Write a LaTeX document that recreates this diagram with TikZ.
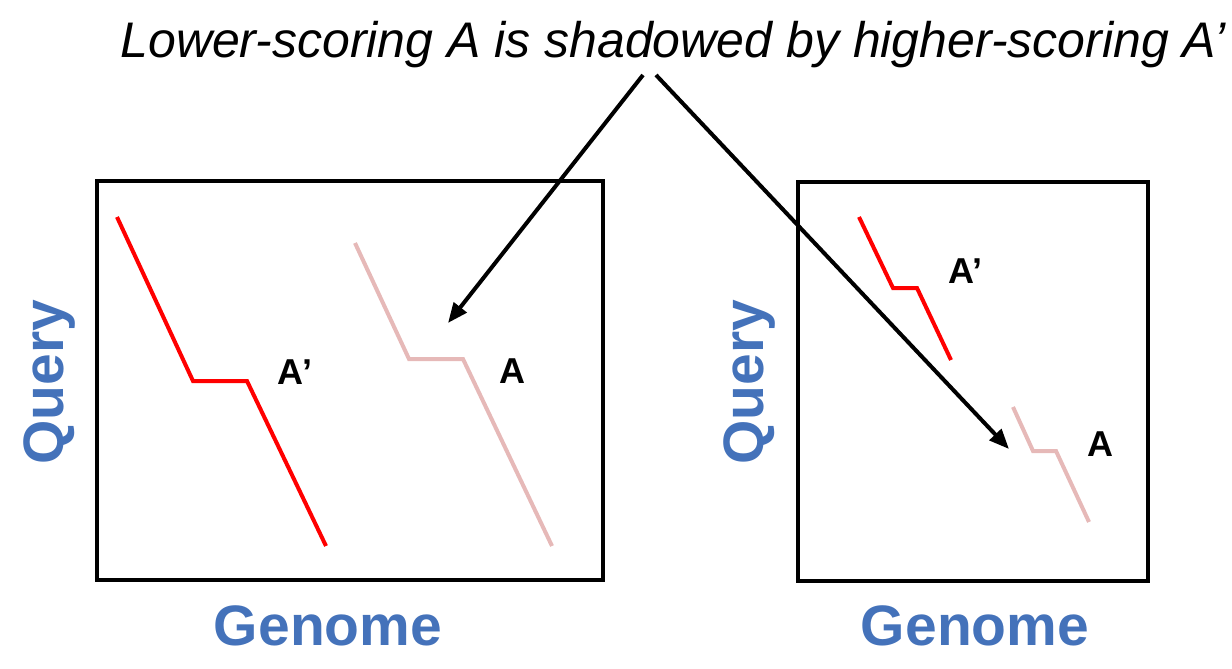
\documentclass[tikz,border=0pt]{standalone}
\usepackage{fontspec}
\setmainfont{Liberation Sans}
\usetikzlibrary{arrows.meta}
\definecolor{axisblue}{RGB}{68,114,186}
\definecolor{shadowpink}{RGB}{230,185,184}

\begin{document}
\begin{tikzpicture}[x=1pt, y=-1pt, line width=4pt,
    every node/.style={inner sep=0pt},
    axislabel/.style={font=\fontsize{57}{60}\selectfont\bfseries, text=axisblue},
    hitlabel/.style={font=\fontsize{36}{40}\selectfont\bfseries, anchor=base},
    pointer/.style={-{Triangle[length=20pt,width=16pt]}}]

        \useasboundingbox (0,0) rectangle (1232,669);

        % Caption on top
        \node[anchor=base, font=\fontsize{50}{55}\selectfont\itshape] (caption) at (673,58)
            {Lower-scoring A is shadowed by higher-scoring A’};

        % Left: both hits at full length
        \draw (97,181) rectangle (603,580);

        \draw[red] (117,217) -- (193,381) -- (247,381) -- (326,546);
        \draw[shadowpink] (355,243) -- (409,359) -- (463,359) -- (552,546);

        \node[hitlabel] (leftAp) at (295,384) {A’};
        \node[hitlabel] (leftA) at (512,383) {A};

        \node[axislabel, rotate=90] (leftQuery) at (50,382) {Query};
        \node[axislabel, anchor=base] (leftGenome) at (328,645) {Genome};

        % Right: after shadowing
        \draw (798,182) rectangle (1148,581);

        \draw[red] (859,217) -- (893,288) -- (917,288) -- (951,360);
        \draw[shadowpink] (1013,407) -- (1033,451) -- (1056,451) -- (1089,522);

        \node[hitlabel] (rightAp) at (965,283) {A’};
        \node[hitlabel] (rightA) at (1100,456) {A};

        \node[axislabel, rotate=90] (rightQuery) at (750,382) {Query};
        \node[axislabel, anchor=base] (rightGenome) at (975,645) {Genome};

        % Arrows from caption
        \coordinate (fromL) at (643,75);
        \coordinate (fromR) at (656,75);
        \coordinate (toL) at (448,323);
        \coordinate (toR) at (1009,449);

        \draw[pointer] (fromL) -- (toL);
        \draw[pointer] (fromR) -- (toR);

\end{tikzpicture}
\end{document}
